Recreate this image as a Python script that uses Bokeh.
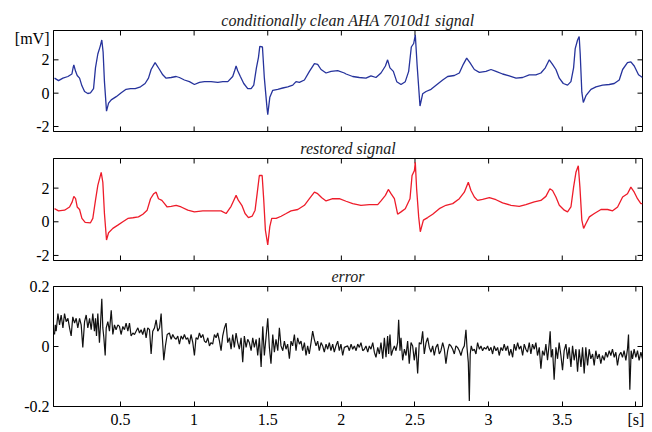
import math
from bokeh.plotting import figure
from bokeh.models import LinearAxis, FixedTicker, Range1d
from bokeh.layouts import column
from bokeh.embed import file_html
from bokeh.resources import INLINE

FONT = "Liberation Serif"

# ---- data ----
clean_t = [0.052, 0.079, 0.109, 0.143, 0.170, 0.179, 0.183, 0.195, 0.206, 0.222, 0.238, 0.256, 0.278,
           0.296, 0.317, 0.330, 0.346, 0.362, 0.373, 0.382, 0.391, 0.405, 0.419, 0.437, 0.471, 0.505,
           0.538, 0.568, 0.600, 0.636, 0.667, 0.690, 0.708, 0.735, 0.765, 0.787, 0.810, 0.844, 0.878,
           0.900, 0.934, 0.968, 1.002, 1.036, 1.070, 1.115, 1.161, 1.195, 1.229, 1.262, 1.274, 1.285,
           1.296, 1.314, 1.337, 1.364, 1.387, 1.405, 1.423, 1.437, 1.446, 1.464, 1.477, 1.495, 1.500,
           1.514, 1.534, 1.568, 1.602, 1.636, 1.670, 1.692, 1.715, 1.749, 1.783, 1.817, 1.839, 1.862,
           1.896, 1.930, 1.975, 2.020, 2.032, 2.077, 2.122, 2.167, 2.201, 2.235, 2.269, 2.299, 2.314,
           2.330, 2.353, 2.376, 2.405, 2.434, 2.457, 2.475, 2.491, 2.502, 2.514, 2.534, 2.552, 2.575,
           2.609, 2.643, 2.688, 2.722, 2.767, 2.801, 2.828, 2.851, 2.873, 2.903, 2.937, 2.982, 3.016,
           3.050, 3.095, 3.140, 3.186, 3.231, 3.276, 3.321, 3.355, 3.385, 3.412, 3.434, 3.457, 3.480,
           3.507, 3.536, 3.559, 3.577, 3.588, 3.604, 3.615, 3.622, 3.633, 3.643, 3.661, 3.695, 3.729,
           3.774, 3.819, 3.853, 3.887, 3.910, 3.943, 3.966, 3.989, 4.018, 4.045]
clean_mv = [0.90, 0.75, 0.90, 1.00, 1.15, 1.56, 1.69, 1.31, 1.06, 0.90, 0.44, 0.10, -0.02,
            0.02, 0.27, 1.52, 2.35, 2.81, 3.19, 2.46, 0.69, -1.08, -0.60, -0.40, -0.21, 0.02,
            0.23, 0.27, 0.27, 0.38, 0.58, 0.90, 1.42, 1.83, 1.42, 1.10, 0.90, 0.94, 1.00,
            0.94, 0.79, 0.69, 0.52, 0.65, 0.69, 0.69, 0.65, 0.69, 0.69, 1.00, 1.31, 1.63,
            1.35, 1.00, 0.58, 0.27, 0.27, 0.48, 1.52, 2.15, 2.81, 2.77, 0.90, -0.88, -1.29,
            -0.25, 0.17, 0.23, 0.31, 0.38, 0.48, 0.69, 0.65, 0.79, 1.31, 1.77, 1.73, 1.42,
            1.21, 1.31, 1.35, 1.21, 1.15, 1.00, 0.94, 0.90, 1.04, 0.94, 1.21, 1.63, 2.00,
            1.52, 1.31, 0.69, 0.52, 0.69, 1.31, 2.77, 2.98, 3.50, 1.73, -0.77, -0.04, 0.10,
            0.23, 0.48, 0.79, 1.00, 1.06, 1.21, 1.73, 2.10, 1.83, 1.42, 1.25, 1.31, 1.42,
            1.31, 1.15, 1.04, 0.90, 0.94, 1.10, 1.10, 1.21, 1.52, 2.00, 1.73, 1.42, 0.90,
            0.58, 0.48, 0.69, 1.52, 2.67, 3.19, 3.40, 2.35, 0.06, -0.56, -0.15, 0.23, 0.38,
            0.48, 0.52, 0.58, 0.79, 1.42, 1.83, 1.88, 1.63, 1.10, 0.94]

restored_t = [0.052, 0.079, 0.120, 0.154, 0.172, 0.183, 0.195, 0.206, 0.222, 0.238, 0.260, 0.296,
              0.312, 0.330, 0.346, 0.369, 0.380, 0.391, 0.405, 0.419, 0.448, 0.482, 0.516, 0.550,
              0.584, 0.622, 0.652, 0.681, 0.704, 0.726, 0.742, 0.758, 0.781, 0.799, 0.817, 0.844,
              0.878, 0.912, 0.957, 1.002, 1.059, 1.115, 1.183, 1.217, 1.251, 1.269, 1.285, 1.301,
              1.324, 1.346, 1.369, 1.394, 1.414, 1.428, 1.443, 1.462, 1.473, 1.484, 1.500, 1.514,
              1.527, 1.557, 1.591, 1.625, 1.658, 1.704, 1.749, 1.783, 1.817, 1.839, 1.867, 1.896,
              1.941, 1.986, 2.032, 2.077, 2.133, 2.190, 2.247, 2.269, 2.299, 2.319, 2.337, 2.360,
              2.382, 2.405, 2.434, 2.466, 2.480, 2.496, 2.502, 2.511, 2.525, 2.536, 2.557, 2.586,
              2.620, 2.665, 2.710, 2.756, 2.801, 2.835, 2.862, 2.880, 2.903, 2.925, 2.959, 3.005,
              3.050, 3.095, 3.152, 3.208, 3.253, 3.310, 3.355, 3.389, 3.416, 3.434, 3.457, 3.480,
              3.514, 3.536, 3.559, 3.577, 3.593, 3.609, 3.620, 3.633, 3.645, 3.661, 3.684, 3.718,
              3.763, 3.808, 3.842, 3.876, 3.910, 3.943, 3.966, 3.989, 4.011, 4.034, 4.045]
restored_mv = [0.78, 0.65, 0.69, 0.88, 1.18, 1.51, 1.37, 0.88, 0.73, 0.20, -0.04, -0.06,
               0.20, 1.27, 2.16, 2.94, 2.35, 0.49, -1.08, -0.65, -0.39, -0.20, 0.00, 0.20,
               0.24, 0.29, 0.45, 0.69, 1.37, 1.67, 1.76, 1.37, 1.27, 1.08, 0.88, 0.92,
               0.98, 0.88, 0.69, 0.59, 0.65, 0.65, 0.65, 0.49, 0.92, 1.27, 1.57, 1.27,
               0.98, 0.49, 0.25, 0.33, 0.69, 1.67, 2.75, 2.75, 1.27, -0.49, -1.37, -0.29,
               0.20, 0.20, 0.33, 0.49, 0.65, 0.73, 0.98, 1.37, 1.76, 1.67, 1.43, 1.24,
               1.37, 1.37, 1.22, 1.08, 0.98, 1.02, 1.02, 1.24, 1.57, 1.92, 1.67, 1.37,
               0.45, 0.59, 0.78, 1.37, 2.75, 3.04, 3.53, 1.96, 0.29, -0.59, 0.10, 0.25,
               0.45, 0.78, 0.98, 1.08, 1.37, 1.76, 2.35, 1.86, 1.47, 1.27, 1.33, 1.43,
               1.31, 1.12, 0.98, 0.92, 1.02, 1.18, 1.27, 1.51, 1.96, 1.86, 1.47, 0.98,
               0.69, 0.59, 0.88, 2.06, 2.94, 3.33, 2.06, 0.10, -0.39, -0.10, 0.29, 0.49,
               0.73, 0.73, 0.65, 0.88, 1.47, 1.67, 2.06, 1.76, 1.37, 1.08, 1.08]

error_t = [0.052, 0.057, 0.063, 0.075, 0.086, 0.097, 0.109, 0.120, 0.131, 0.143, 0.154, 0.165, 0.176,
           0.188, 0.199, 0.210, 0.222, 0.233, 0.244, 0.256, 0.267, 0.278, 0.290, 0.301, 0.312, 0.323,
           0.330, 0.337, 0.346, 0.357, 0.364, 0.373, 0.380, 0.387, 0.396, 0.403, 0.414, 0.425, 0.437,
           0.448, 0.459, 0.470, 0.482, 0.493, 0.504, 0.516, 0.527, 0.538, 0.550, 0.561, 0.572, 0.584,
           0.595, 0.606, 0.618, 0.629, 0.640, 0.651, 0.663, 0.674, 0.685, 0.697, 0.708, 0.719, 0.731,
           0.742, 0.753, 0.765, 0.776, 0.783, 0.794, 0.805, 0.817, 0.832, 0.844, 0.855, 0.866, 0.878,
           0.889, 0.900, 0.912, 0.923, 0.934, 0.946, 0.957, 0.968, 0.979, 0.991, 1.002, 1.013, 1.025,
           1.036, 1.047, 1.059, 1.070, 1.081, 1.093, 1.104, 1.115, 1.126, 1.138, 1.149, 1.160, 1.172,
           1.183, 1.194, 1.206, 1.217, 1.228, 1.240, 1.251, 1.262, 1.273, 1.285, 1.296, 1.307, 1.319,
           1.330, 1.341, 1.353, 1.364, 1.375, 1.387, 1.398, 1.409, 1.421, 1.432, 1.443, 1.455, 1.466,
           1.477, 1.488, 1.500, 1.511, 1.522, 1.534, 1.545, 1.556, 1.568, 1.579, 1.590, 1.602, 1.613,
           1.624, 1.635, 1.647, 1.658, 1.669, 1.681, 1.692, 1.703, 1.715, 1.726, 1.737, 1.749, 1.760,
           1.771, 1.782, 1.794, 1.805, 1.816, 1.828, 1.839, 1.850, 1.862, 1.873, 1.884, 1.896, 1.907,
           1.918, 1.929, 1.941, 1.952, 1.963, 1.975, 1.986, 1.997, 2.009, 2.020,
           2.043, 2.054, 2.066, 2.077, 2.088, 2.100, 2.111, 2.122, 2.133, 2.145, 2.156, 2.167, 2.179,
           2.190, 2.201, 2.213, 2.224, 2.235, 2.247, 2.258, 2.269, 2.281, 2.292, 2.303, 2.314, 2.321,
           2.330, 2.339, 2.348, 2.360, 2.371, 2.382, 2.389, 2.398, 2.405, 2.416, 2.428, 2.439, 2.450,
           2.461, 2.473, 2.484, 2.495, 2.507, 2.518, 2.529, 2.541, 2.552, 2.563, 2.575, 2.586, 2.597,
           2.609, 2.620, 2.631, 2.642, 2.654, 2.665, 2.676, 2.688, 2.699, 2.710, 2.722, 2.733, 2.744,
           2.756, 2.767, 2.778, 2.789, 2.801, 2.812, 2.823, 2.835, 2.846, 2.853, 2.862, 2.869, 2.875,
           2.882, 2.891, 2.903, 2.914, 2.925, 2.937, 2.948, 2.959, 2.970, 2.982, 2.993, 3.004, 3.016,
           3.027, 3.038, 3.050, 3.061, 3.072, 3.084, 3.095, 3.106, 3.117, 3.129, 3.140, 3.151, 3.163,
           3.174, 3.185, 3.197, 3.208, 3.219, 3.231, 3.242, 3.253, 3.264, 3.276, 3.287, 3.298, 3.310,
           3.321, 3.332, 3.344, 3.355, 3.366, 3.378, 3.389, 3.400, 3.412, 3.418, 3.425, 3.434, 3.445,
           3.457, 3.468, 3.479, 3.491, 3.502, 3.513, 3.525, 3.536, 3.547, 3.559, 3.570, 3.581, 3.593,
           3.604, 3.615, 3.627, 3.638, 3.649, 3.660, 3.672, 3.683, 3.694, 3.706, 3.717, 3.728, 3.739,
           3.751, 3.762, 3.773, 3.785, 3.796, 3.807, 3.819, 3.830, 3.841, 3.853, 3.864, 3.875, 3.886,
           3.898, 3.909, 3.920, 3.932, 3.943, 3.950, 3.959, 3.968, 3.977, 3.988, 4.000, 4.011, 4.022,
           4.034, 4.045]
error_mv = [0.040, 0.072, 0.051, 0.110, 0.072, 0.105, 0.062, 0.110, 0.083, 0.094, 0.062, 0.035, 0.099,
            0.078, 0.094, 0.062, 0.094, 0.072, -0.003, 0.083, 0.105, 0.062, 0.094, 0.056, 0.110, 0.051,
            0.094, 0.035, 0.110, 0.013, 0.072, 0.159, 0.062, 0.029, -0.030, 0.062, 0.083, 0.051, 0.121,
            0.040, 0.072, 0.056, 0.072, 0.067, 0.040, 0.067, 0.056, 0.078, 0.051, 0.078, 0.035, 0.045,
            0.040, 0.051, 0.062, 0.045, 0.056, 0.040, 0.062, 0.029, 0.062, 0.056, -0.025, 0.051, 0.062,
            0.089, 0.051, 0.062, 0.110, 0.040, -0.046, 0.002, 0.040, 0.045, 0.024, 0.040, 0.029, 0.024,
            0.035, 0.008, 0.035, 0.024, 0.040, 0.024, 0.029, 0.008, 0.040, 0.013, -0.030, 0.029, 0.024,
            0.045, 0.029, 0.040, 0.018, 0.013, 0.029, 0.002, 0.013, 0.008, 0.040, 0.029, 0.045, 0.018,
            -0.014, 0.035, 0.062, 0.078, 0.013, 0.029, -0.009, 0.040, -0.003, 0.045, 0.013, -0.009, 0.029,
            -0.052, 0.035, -0.003, 0.024, 0.013, -0.014, 0.029, -0.003, 0.024, -0.030, 0.029, -0.068, 0.067,
            -0.030, 0.029, 0.094, -0.003, -0.057, 0.040, -0.019, 0.024, -0.014, 0.062, 0.002, -0.014, 0.018,
            -0.009, 0.008, -0.041, 0.018, 0.002, 0.040, -0.014, 0.029, 0.008, 0.018, -0.014, 0.013, -0.030,
            0.002, -0.025, 0.013, 0.051, 0.024, 0.002, 0.018, -0.014, 0.013, 0.002, -0.019, 0.008, -0.009,
            0.013, -0.014, 0.008, -0.019, 0.002, 0.018, -0.014, 0.008, -0.030, -0.003,
            0.002, -0.014, 0.008, -0.009, 0.002, -0.014, 0.008, -0.003, 0.013, -0.014, -0.009, 0.002, -0.019,
            0.002, -0.009, 0.013, -0.019, -0.036, -0.003, -0.025, 0.013, -0.041, 0.029, -0.036, 0.035, -0.025,
            0.040, -0.030, -0.014, 0.002, -0.014, 0.013, 0.089, -0.014, 0.029, -0.046, -0.009, -0.030, 0.018,
            -0.057, 0.013, 0.002, -0.046, -0.003, -0.090, 0.013, 0.008, 0.051, -0.025, 0.013, 0.029, -0.003,
            -0.019, 0.002, -0.030, -0.003, 0.008, -0.025, -0.014, 0.013, -0.009, -0.057, -0.014, 0.008, 0.002,
            -0.009, -0.025, 0.002, -0.003, -0.014, -0.030, -0.009, 0.002, 0.056, -0.003, -0.052, -0.182, -0.025,
            0.002, -0.014, -0.009, -0.025, 0.013, -0.009, 0.002, -0.014, -0.003, -0.009, 0.002, -0.014, -0.003,
            -0.025, 0.002, -0.014, -0.003, -0.030, -0.003, -0.014, 0.008, -0.014, 0.002, -0.030, -0.009, -0.036,
            0.008, -0.014, 0.013, -0.009, 0.002, -0.030, 0.008, -0.009, -0.019, 0.013, -0.025, 0.008, -0.009,
            0.013, -0.030, -0.003, -0.074, -0.014, -0.030, 0.008, -0.046, 0.013, 0.051, -0.036, -0.009, -0.111,
            -0.003, -0.041, 0.013, -0.030, -0.079, -0.014, 0.008, -0.041, -0.003, -0.068, 0.002, -0.046, -0.009,
            -0.084, -0.009, -0.068, -0.003, -0.090, -0.003, -0.063, -0.009, -0.041, -0.025, -0.063, -0.014, -0.041,
            -0.025, -0.057, -0.030, -0.046, -0.019, -0.036, -0.014, -0.030, -0.009, -0.036, -0.019, -0.063, -0.030,
            -0.019, -0.036, -0.014, -0.046, -0.009, 0.040, -0.144, -0.014, -0.041, -0.009, -0.036, -0.014, -0.046,
            -0.019, -0.041]

x_ticks = [0.5, 1.0, 1.5, 2.0, 2.5, 3.0, 3.5, 4.0]
x_tick_labels = {0.5: "0.5", 1.0: "1", 1.5: "1.5", 2.0: "2", 2.5: "2.5", 3.0: "3", 3.5: "3.5", 4.0: "[s]"}
sig_ticks = [-2, 0, 2]
sig_tick_labels = {-2: "-2", 0: "0", 2: "2"}
unit_tick = 3.28
unit_label = "[mV]"
err_ticks = [-0.2, 0, 0.2]
err_tick_labels = {-0.2: "-0.2", 0: "0", 0.2: "0.2"}

X_RANGE = (0.045, 4.045)
SIG_RANGE = (-2.3, 3.76)
ERR_RANGE = (-0.2, 0.2)


def label_axis(ticks, labels, tick_in):
    ax = LinearAxis(ticker=FixedTicker(ticks=ticks))
    ax.major_tick_in = tick_in
    ax.major_tick_out = 0
    ax.minor_tick_in = 0
    ax.minor_tick_out = 0
    ax.axis_line_color = "black"
    ax.axis_line_width = 1
    ax.major_tick_line_color = "black"
    ax.major_label_overrides = labels
    ax.major_label_text_font = FONT
    ax.major_label_text_font_size = "16px"
    ax.major_label_text_color = "black"
    ax.major_label_standoff = 4
    return ax


def panel(title, height, top, bottom, yrange, yticks, ylabels, show_x, extra_ytick=None):
    p = figure(width=644, height=height, x_range=Range1d(*X_RANGE), y_range=Range1d(*yrange),
               output_backend="svg", toolbar_location=None,
               x_axis_location=None, y_axis_location=None,
               min_border_left=53, min_border_right=2, min_border_top=top, min_border_bottom=bottom)
    p.xgrid.visible = False
    p.ygrid.visible = False
    p.outline_line_color = "black"
    p.outline_line_width = 1
    p.background_fill_color = "white"
    p.border_fill_color = "white"
    p.title.text = title
    p.title.align = "center"
    p.title.text_font = FONT
    p.title.text_font_style = "italic"
    p.title.text_font_size = "16px"
    p.title.text_color = "#1a1a1a"
    p.title.standoff = 3
    p.title.offset = 0

    lticks = list(yticks)
    llabels = dict(ylabels)
    if extra_ytick is not None:
        lticks.append(extra_ytick[0])
        llabels[extra_ytick[0]] = extra_ytick[1]
    p.add_layout(label_axis(lticks, llabels, 0), "left")
    if show_x:
        p.add_layout(label_axis(x_ticks, x_tick_labels, 5), "below")
    else:
        # inward bottom ticks (half of each dash is clipped by the frame)
        p.scatter(x=x_ticks, y=[yrange[0]] * len(x_ticks), marker="dash", angle=math.pi / 2,
                  size=10, line_color="black", line_width=1)
    # inward ticks on the other sides
    p.scatter(x=x_ticks, y=[yrange[1]] * len(x_ticks), marker="dash", angle=math.pi / 2,
              size=10, line_color="black", line_width=1)
    p.scatter(x=[X_RANGE[0]] * len(yticks), y=yticks, marker="dash",
              size=10, line_color="black", line_width=1)
    p.scatter(x=[X_RANGE[1]] * len(yticks), y=yticks, marker="dash",
              size=10, line_color="black", line_width=1)
    return p


p1 = panel("conditionally clean AHA 7010d1 signal", 136, 30, 5, SIG_RANGE, sig_ticks, sig_tick_labels,
           False, extra_ytick=(unit_tick, unit_label))
p1.line(clean_t, clean_mv, line_color="#26339c", line_width=1.3)

p2 = panel("restored signal", 128, 21, 4, SIG_RANGE, sig_ticks, sig_tick_labels, False)
p2.line(restored_t, restored_mv, line_color="#ee1c2a", line_width=1.3)

p3 = panel("error", 166, 20, 23, ERR_RANGE, err_ticks, err_tick_labels, True)
p3.line(error_t, error_mv, line_color="#111111", line_width=1.2)

layout = column(p1, p2, p3, spacing=0)

open("out.html", "w").write(file_html(layout, INLINE))
